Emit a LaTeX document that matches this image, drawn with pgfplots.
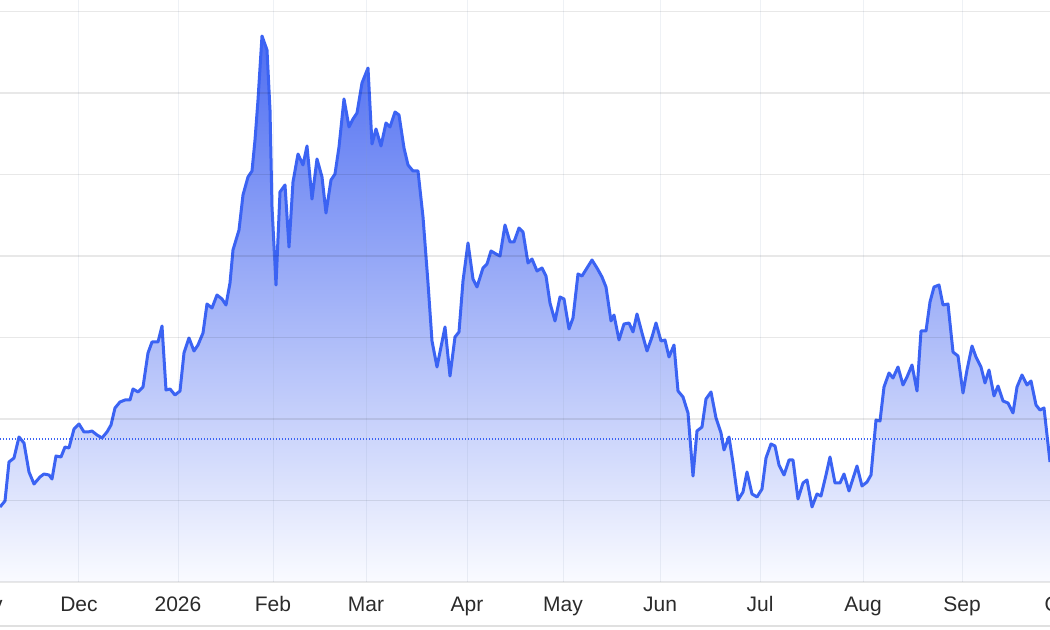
\documentclass[border=0pt]{standalone}
\usepackage{pgfplots}
\pgfplotsset{compat=1.18}
\usepackage{pgfplotstable}
\usepackage{fontspec}
\setmainfont{Liberation Sans}
\definecolor{lineblue}{HTML}{3B63F3}
\definecolor{filltop}{HTML}{4F6EF1}
\definecolor{fillbot}{HTML}{FAFBFF}
\definecolor{labelgray}{HTML}{2B2B2B}
\definecolor{vgrid}{HTML}{8A9CB8}

% x: horizontal position (Dec 1 = 79, about 3.2 per day); y: level above the baseline
\pgfplotstableread{
x y
0 75
5 81
9 120
14 124
19 145
24 139
29 110
34 98
40 105
44 108
49 107
52 103
56 126
61 125
65 135
69 134
74 153
79 158
84 150
88 150
92 151
97 147
102 144
107 150
111 157
115 174
120 180
125 182
130 182
133 193
138 190
143 195
148 229
152 240
158 240
162 256
166 192
170 193
175 187
180 191
184 229
189 244
194 231
198 237
203 249
207 278
212 274
217 287
222 283
226 277
230 299
233 332
239 352
243 387
248 405
252 411
255 442
258 482
262 546
267 532
270 472
272 375
276 297
280 390
285 397
289 335
293 400
298 428
303 417
307 436
312 383
317 423
322 405
326 369
331 402
335 408
339 435
344 483
349 455
353 463
357 469
362 499
368 514
372 438
376 453
381 436
386 459
390 455
395 470
399 467
404 434
408 417
413 411
418 411
423 365
428 299
432 241
437 215
445 255
450 206
455 245
459 250
463 301
468 339
473 303
477 295
483 314
487 318
491 331
496 328
500 326
505 357
510 340
514 340
519 354
523 350
528 319
532 323
537 311
542 314
546 306
550 279
555 261
560 285
564 283
569 253
573 264
578 308
582 306
587 314
592 322
597 314
602 305
606 295
611 261
614 267
619 242
624 258
629 259
633 250
637 268
642 249
647 231
652 245
656 259
661 241
665 242
669 225
674 237
678 191
683 185
688 169
693 106
697 151
702 155
706 183
711 190
716 164
721 149
724 132
729 145
733 119
738 82
743 90
747 110
752 88
757 85
762 93
766 124
771 138
775 136
779 117
784 107
789 122
793 122
798 83
803 99
807 102
812 75
817 88
821 86
826 107
830 125
835 99
840 99
844 108
849 91
857 116
862 96
867 100
871 107
876 162
880 161
884 195
889 209
893 204
898 215
903 197
907 205
912 217
917 191
921 251
926 251
930 280
934 295
939 297
943 277
948 278
953 230
958 226
963 189
967 212
972 236
976 225
981 215
985 199
989 212
994 186
998 196
1003 181
1008 179
1013 169
1017 195
1022 207
1027 197
1031 201
1036 177
1040 172
1044 174
1050 120
}\series

\begin{document}
\begin{tikzpicture}
\useasboundingbox (0,0) rectangle (525pt,315pt);
\begin{axis}[
  at={(-15pt,24pt)}, anchor=south west,
  scale only axis, width=555pt, height=291pt,
  xmin=-30, xmax=1080, ymin=0, ymax=582,
  axis line style={draw=none},
  major tick length=0pt,
  xtick={-16,79,178,273,366,467,563,660,760,863,962,1061},
  xticklabels={Nov,Dec,2026,Feb,Mar,Apr,May,Jun,Jul,Aug,Sep,Oct},
  ytick={0,81.5,163,244.5,326,407.5,489,570.5},
  yticklabels={},
  grid=major,
  x grid style={color=vgrid, opacity=0.14, line width=0.5pt},
  y grid style={color=black, opacity=0.09, line width=0.6pt},
  xticklabel style={font=\fontsize{10.5}{12}\selectfont, text=labelgray, yshift=-3pt},
  typeset ticklabels with strut,
  /pgf/number format/assume math mode=true,
  axis on top,
]
\addplot[draw=none, top color=filltop, bottom color=fillbot] table[x=x, y=y] {\series} \closedcycle;
\addplot[lineblue, line width=0.6pt, dash pattern=on 0.6pt off 0.9pt] coordinates {(-30,143) (1080,143)};
\addplot[lineblue, line width=1.5pt, line join=round] table[x=x, y=y] {\series};
\end{axis}
\draw[black!12, line width=0.6pt] (0,2pt) -- (525pt,2pt);
\end{tikzpicture}
\end{document}
